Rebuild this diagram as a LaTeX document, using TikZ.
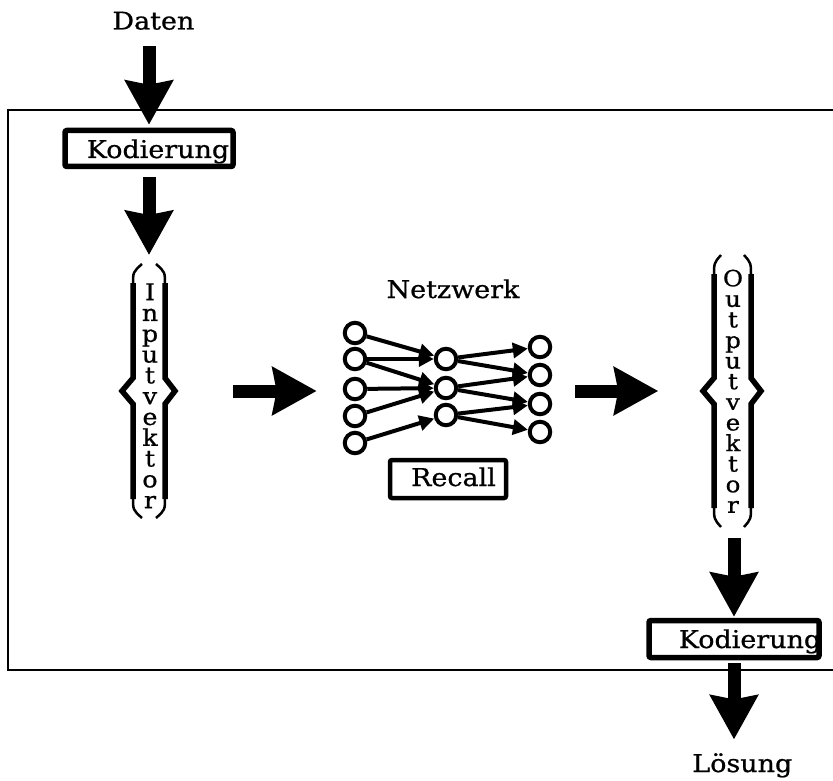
\documentclass[tikz,border=0pt]{standalone}
\usepackage{fontspec}
\setmainfont{DejaVu Serif}[FakeStretch=1.1,FakeBold=0.8]
\usetikzlibrary{arrows.meta}
\newcommand\bracepath[6]{% #1 vertical x, #2 tip x, #3 point x, #4 top y, #5 bottom y, #6 mid y
  \draw[brthick] ({#1},{#4+19}) -- ({#1},{#6-13}) -- ({#3},{#6}) -- ({#1},{#6+13}) -- ({#1},{#5-19});
  \draw[brthin] ({#1},{#4+21}) .. controls ({#1},{#4+8}) .. ({#2},{#4});
  \draw[brthin] ({#1},{#5-21}) .. controls ({#1},{#5-8}) .. ({#2},{#5});
}
\begin{document}
\begin{tikzpicture}[x=1pt,y=-1pt,
  txt/.style={inner sep=0pt, font=\fontsize{24.5}{28}\selectfont},
  vtxt/.style={inner sep=0pt, align=center, anchor=north},
  codebox/.style={draw, line width=5.5pt, rounded corners=2pt, inner sep=0pt},
  area/.style={inner sep=0pt, outer sep=0pt},
  neuron/.style={circle, draw, line width=4pt, minimum size=20.5pt, inner sep=0pt},
  link/.style={line width=4pt, -{Triangle[length=15pt,width=15pt]}},
  bigarrow/.style={line width=13pt, -{Stealth[length=44pt,width=47pt,inset=4pt]}},
  frame/.style={line width=2.5pt},
  brthick/.style={line width=5.5pt, line join=miter},
  brthin/.style={line width=2.5pt},
]
\useasboundingbox (0,0) rectangle (833,781);

% outer frame
\draw[frame] (833,110) -- (8,110) -- (8,670) -- (833,670);

% nodes
\node[txt, anchor=base] (daten) at (153.4,29.5) {Daten};
\node[codebox, minimum width=168pt, minimum height=36pt] (kod1) at (149,148.5) {};
\node[txt, anchor=base] (kod1t) at (158,158) {Kodierung};

\node[area, minimum width=56pt, minimum height=256pt] (invec) at (149,391) {};
\node[vtxt, font=\fontsize{23}{20.8}\selectfont] (intxt) at (150,283.2)
  {I\\n\\p\\u\\t\\v\\e\\k\\t\\o\\r};
\bracepath{133}{142}{122}{264}{518}{391}
\bracepath{165}{156}{175}{264}{518}{391}

\node[area, minimum width=215pt, minimum height=170pt] (net) at (448,391) {};
\node[txt, anchor=base] (netlab) at (453,298) {Netzwerk};
\node[neuron] (i1) at (355,333) {};
\node[neuron] (i2) at (355,359) {};
\node[neuron] (i3) at (355,389) {};
\node[neuron] (i4) at (355,416) {};
\node[neuron] (i5) at (355,443) {};
\node[neuron] (h1) at (446,359) {};
\node[neuron] (h2) at (446,388) {};
\node[neuron] (h3) at (446,415) {};
\node[neuron] (o1) at (540,347) {};
\node[neuron] (o2) at (540,375) {};
\node[neuron] (o3) at (540,404) {};
\node[neuron] (o4) at (540,432) {};
\foreach \a/\b in {i1/h1,i2/h1,i2/h2,i3/h2,i4/h2,i5/h3,h1/o1,h1/o2,h2/o2,h2/o3,h3/o3,h3/o4}
  \draw[link] (\a) -- (\b);

\node[codebox, line width=4.5pt, minimum width=116pt, minimum height=38pt] (recall) at (448,479) {};
\node[txt, anchor=base] (recallt) at (453.5,486) {Recall};

\node[area, minimum width=60pt, minimum height=272pt] (outvec) at (734,391) {};
\node[vtxt, font=\fontsize{22.3}{20.6}\selectfont] (outtxt) at (733,269.5)
  {O\\u\\t\\p\\u\\t\\v\\e\\k\\t\\o\\r};
\bracepath{714}{721}{703}{255}{527}{391}
\bracepath{751}{744}{761}{255}{527}{391}

\node[codebox, minimum width=170pt, minimum height=37pt] (kod2) at (734,639) {};
\node[txt, anchor=base] (kod2t) at (750,648) {Kodierung};
\node[txt, anchor=base] (loes) at (742.3,772) {Lösung};

% big arrows
\draw[bigarrow, shorten <=16.3pt, shorten >=3pt] (kod1.north |- daten.south) -- (kod1.north);
\draw[bigarrow, shorten <=7.7pt, shorten >=8pt] (kod1.south) -- (invec.north);
\draw[bigarrow, shorten <=56pt, shorten >=23.8pt] (invec.east) -- (net.west);
\draw[bigarrow, shorten <=19.5pt, shorten >=45.7pt] (net.east) -- (outvec.west);
\draw[bigarrow, shorten <=11pt, shorten >=1pt] (outvec.south) -- (kod2.north);
\draw[bigarrow, shorten <=3pt, shorten >=13.6pt] (kod2.south) -- (kod2.south |- loes.north);
\end{tikzpicture}
\end{document}
